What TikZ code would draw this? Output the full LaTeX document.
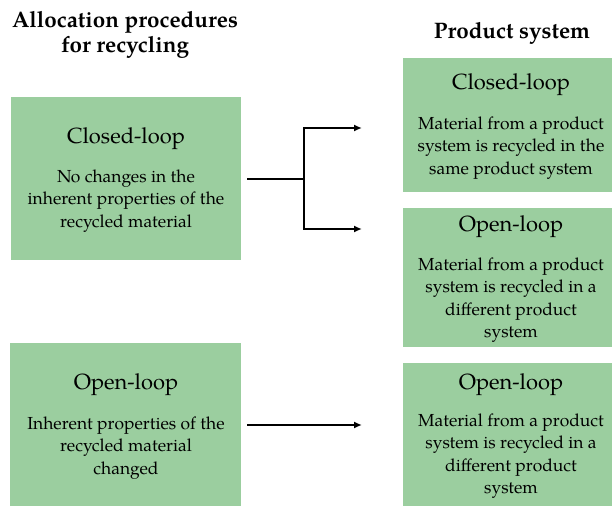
\documentclass[tikz,border=0pt]{standalone}
\usepackage{fontspec}
\setmainfont{texgyrepagella}[Extension=.otf,UprightFont=*-regular,BoldFont=*-bold]
\usetikzlibrary{arrows.meta}
\definecolor{boxgreen}{RGB}{155,206,159}
\tikzset{
  box/.style={fill=boxgreen, draw=none, inner sep=0pt},
  title/.style={font=\fontsize{22.5}{25}\selectfont\bfseries, align=center, inner sep=0pt},
  head/.style={font=\fontsize{22}{26}\selectfont, inner sep=0pt},
  body/.style={font=\fontsize{17.5}{22.5}\selectfont, align=center, inner sep=0pt},
  conn/.style={line width=1.6bp, black},
  arr/.style={conn, -{Latex[length=8bp,width=7bp]}}
}
\begin{document}
\begin{tikzpicture}[x=1bp,y=-1bp]
  \useasboundingbox (0,0) rectangle (612,506);

  % column titles
  \node[title] (tl) at (125,34.5) {Allocation procedures\\for recycling};
  \node[title] (tr) at (512,33) {Product system};

  % allocation procedure boxes (left)
  \node[box, minimum width=230bp, minimum height=163bp] (L1) at (126,178.5) {};
  \node[box, minimum width=231bp, minimum height=163bp] (L2) at (125.5,424.5) {};

  % product system boxes (right)
  \node[box, minimum width=209bp, minimum height=134bp] (R1) at (507.5,125) {};
  \node[box, minimum width=209bp, minimum height=139bp] (R2) at (507.5,277.5) {};
  \node[box, minimum width=209bp, minimum height=143bp] (R3) at (507.5,434.5) {};

  % texts of the left boxes
  \node[head] (L1h) at (126,139) {Closed-loop};
  \node[body] (L1b) at (126,201) {No changes in the\\inherent properties of the\\recycled material};
  \node[head] (L2h) at (126,385) {Open-loop};
  \node[body] (L2b) at (126,448) {Inherent properties of the\\recycled material\\changed};

  % texts of the right boxes
  \node[head] (R1h) at (511,85) {Closed-loop};
  \node[body] (R1b) at (511,148) {Material from a product\\system is recycled in the\\same product system};
  \node[head] (R2h) at (511,227) {Open-loop};
  \node[body] (R2b) at (511,300) {Material from a product\\system is recycled in a\\different product\\system};
  \node[head] (R3h) at (511,385) {Open-loop};
  \node[body] (R3b) at (511,456) {Material from a product\\system is recycled in a\\different product\\system};

  % connectors
  \coordinate (s1) at (247,179);
  \coordinate (fork) at (304,179);
  \coordinate (t1) at (362,128);
  \coordinate (t2) at (362,229);
  \coordinate (s2) at (247,425);
  \coordinate (t3) at (362,425);
  \draw[conn] (s1) -- (fork);
  \draw[arr] (fork) |- (t1);
  \draw[arr] (fork) |- (t2);
  \draw[arr] (s2) -- (t3);
\end{tikzpicture}
\end{document}
